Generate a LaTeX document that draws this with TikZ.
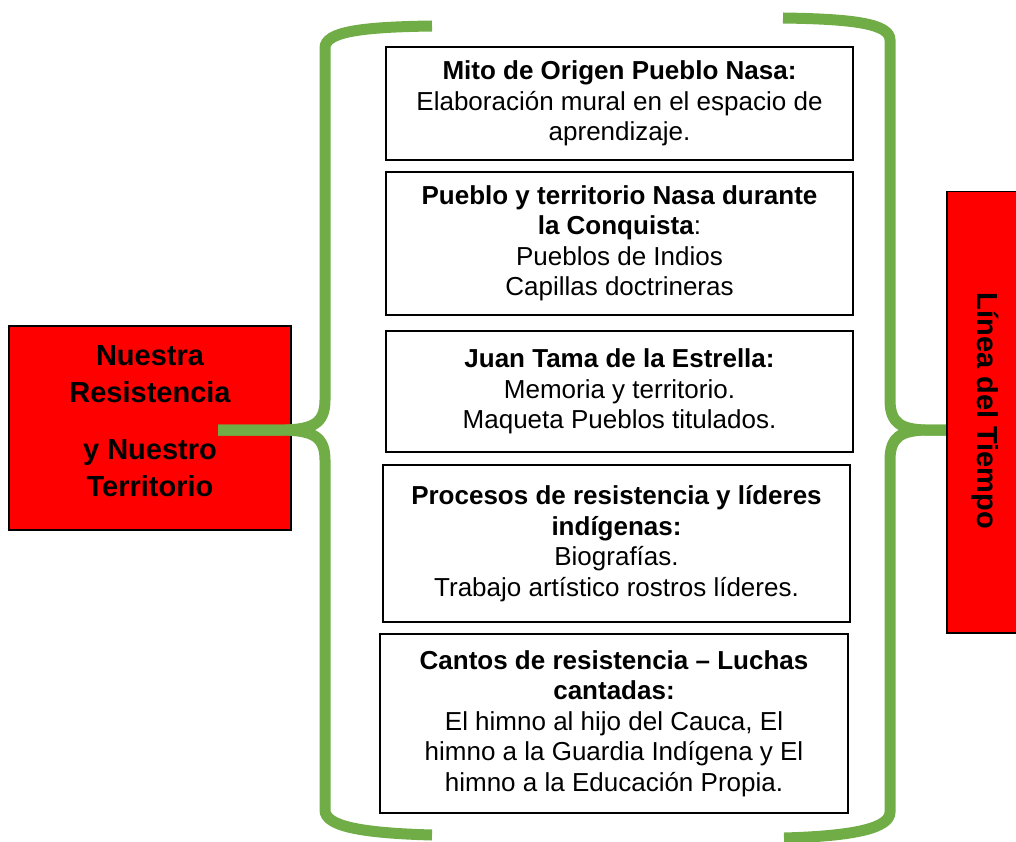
\documentclass[tikz,border=0pt]{standalone}
\usepackage{fontspec}
\setmainfont{Liberation Sans}
\definecolor{bracegreen}{HTML}{70AD47}
\definecolor{boxred}{HTML}{FF0000}
\begin{document}
\begin{tikzpicture}[x=1pt,y=-1pt,
 infobox/.style={draw=black, line width=1.5pt, fill=white, inner sep=0pt, align=center, font=\fontsize{26}{30.5}\selectfont},
 redbox/.style={draw=black, line width=1.5pt, fill=boxred, inner sep=0pt},
 bracestroke/.style={draw=bracegreen, line width=11pt},
 titletext/.style={font=\bfseries\fontsize{29}{37}\selectfont, align=center}]
\useasboundingbox (0,0) rectangle (1016,842);

% left red box
\node[redbox, minimum width=282pt, minimum height=204pt] (lbox) at (150,428) {};
\node[titletext] (ltext) at (150,421) {Nuestra\\Resistencia\\[20pt]y Nuestro\\Territorio};

% brace coordinates
\coordinate (ltop) at (432,26);
\coordinate (ltip) at (218,430);
\coordinate (lbot) at (432,835);
\coordinate (rtop) at (783,18);
\coordinate (rtip) at (946,430);
\coordinate (rbot) at (784,838);

% left brace
\draw[bracestroke] (ltop) .. controls (360,27) and (325,32) .. (325,48) -- (325,400) .. controls (325,424) and (312,429) .. (285,430) -- (ltip);
\draw[bracestroke] (ltip) -- (285,430) .. controls (312,431) and (325,436) .. (325,460) -- (325,810) .. controls (325,826) and (360,833) .. (lbot);

% right brace
\draw[bracestroke] (rtop) .. controls (855,19) and (890,24) .. (890,40) -- (890,400) .. controls (890,424) and (902,429) .. (925,430) -- (rtip);
\draw[bracestroke] (rtip) -- (925,430) .. controls (902,431) and (890,436) .. (890,460) -- (890,812) .. controls (890,828) and (855,836) .. (rbot);

% right red box
\node[redbox, minimum width=74pt, minimum height=441pt, anchor=north west] (rbox) at (946,191) {};
\node[titletext, rotate=-90] (rtext) at (985,411) {Línea del Tiempo};

% content boxes
\node[infobox, minimum width=467pt, minimum height=113pt] (b1) at (619.5,103.5)
 {\textbf{Mito de Origen Pueblo Nasa:}\\Elaboración mural en el espacio de\\aprendizaje.};
\node[infobox, minimum width=467pt, minimum height=143pt] (b2) at (619.5,243.5)
 {\textbf{Pueblo y territorio Nasa durante}\\\textbf{la Conquista}:\\Pueblos de Indios\\Capillas doctrineras};
\node[infobox, minimum width=467pt, minimum height=121pt] (b3) at (619.5,391.5)
 {\textbf{Juan Tama de la Estrella:}\\Memoria y territorio.\\Maqueta Pueblos titulados.};
\node[infobox, minimum width=467pt, minimum height=157pt] (b4) at (616.5,543.5)
 {\textbf{Procesos de resistencia y líderes}\\\textbf{indígenas:}\\Biografías.\\Trabajo artístico rostros líderes.};
\node[infobox, minimum width=468pt, minimum height=179pt] (b5) at (614,723.5)
 {\textbf{Cantos de resistencia -- Luchas}\\\textbf{cantadas:}\\El himno al hijo del Cauca, El\\himno a la Guardia Indígena y El\\himno a la Educación Propia.};
\end{tikzpicture}
\end{document}
